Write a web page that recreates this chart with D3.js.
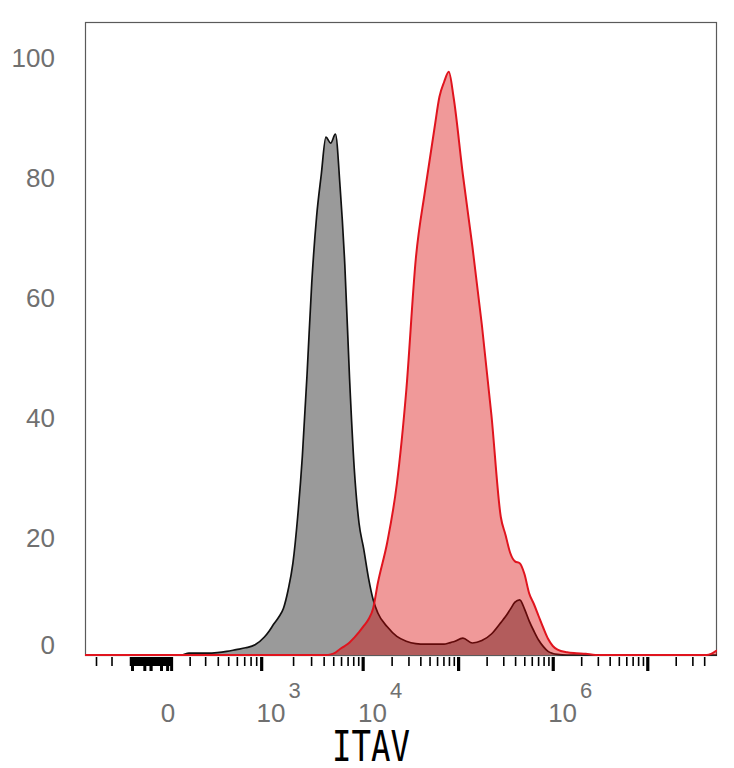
<!DOCTYPE html>
<html>
<head>
<meta charset="utf-8">
<script src="https://cdn.jsdelivr.net/npm/d3@7"></script>
<style>
  html, body { margin: 0; padding: 0; background: #fff; }
  svg { display: block; }
</style>
</head>
<body>
<div id="chart"></div>
<script>
// Histogram bins (intensity values, equal steps on the logicle display)
const binX = [
  -390, 0, 150, 193, 250, 316, 391, 479, 585, 713, 869,
  1060, 1175, 1300, 1440, 1600, 1770, 1970, 2190, 2430, 2710,
  3010, 3360, 3740, 4170, 4650, 5200, 5800, 6480, 7250, 8100,
  9060, 10100, 11400, 12700, 14200, 17800, 22400, 28100, 35400, 44400,
  55900, 62700, 70300, 78800, 88400, 111000, 140000, 176000, 222000, 279000,
  313000, 351000, 394000, 442000, 496000, 556000, 624000, 700000, 786000, 881000,
  989000, 1110000, 1400000, 1760000, 2210000, 2790000, 42000000, 54000000
];

// Isotype control (grey), % of max
const isotype = [
  0, 0, 0, 0.3, 0.3, 0.3, 0.4, 0.6, 0.9, 1.2, 1.7,
  3.0, 4.0, 5.2, 6.3, 7.8, 10.8, 15.3, 23, 33, 47,
  62, 73, 80, 86.3, 85.3, 86.8, 78, 65, 46, 31,
  22, 17.8, 12.7, 9.2, 7.0, 4.7, 3.1, 2.3, 1.9, 1.8,
  1.8, 1.8, 1.8, 2.0, 2.2, 2.8, 2.0, 2.4, 3.5, 5.4,
  6.4, 7.6, 8.8, 9.2, 7.7, 5.7, 4.0, 2.5, 1.4, 0.6,
  0.25, 0.1, 0, 0, 0, 0, 0, 0
];

// ITAV stained sample (red), % of max
const itav = [
  0, 0, 0, 0, 0, 0, 0, 0, 0, 0, 0,
  0, 0, 0, 0, 0, 0, 0, 0, 0, 0,
  0, 0, 0, 0, 0.1, 0.4, 1.0, 1.5, 2.1, 2.9,
  3.8, 4.8, 6.0, 7.8, 12, 18.8, 28.5, 44, 66, 77.5,
  88, 93, 95.5, 97.2, 93, 80, 68, 55, 40, 23,
  20, 17, 15.6, 15.3, 13.5, 10.3, 8.5, 6.5, 4.5, 2.7,
  1.5, 0.9, 0.45, 0.3, 0.2, 0, 0, 0.8
];

const yTicks = [0, 20, 40, 60, 80, 100];
const xLabelTicks = [0, 1e3, 1e4, 1e6];
const xMajorTicks = [0, 1e3, 1e4, 1e5, 1e6, 1e7];
const xNearZeroTicks = [-90, -80, -70, -60, -50, -40, -30, -20, -10,
  10, 20, 30, 40, 50, 60, 70, 80, 90, 100];
const xMinorTicks = [-300, -200, -100, 200, 300, 400, 500, 600, 700, 800, 900];
const xDomain = [-390, 54000000];
const yDomain = [0, 105.5];
const axisTitle = 'ITAV';

// logicle-like display transform
const K = 55.6, P = 2.53;
function logicleInverse(z) {
  const a = Math.abs(z);
  const v = K * (Math.pow(10, a) - P * P * Math.pow(10, -a / P) + P * P - 1);
  return z < 0 ? -v : v;
}
function logicle(v) {
  let lo = -4, hi = 9;
  for (let i = 0; i < 60; i++) {
    const mid = (lo + hi) / 2;
    if (logicleInverse(mid) < v) lo = mid; else hi = mid;
  }
  return (lo + hi) / 2;
}

// decade minor ticks 2..9 x 10^d
for (let d = 3; d <= 7; d++) {
  for (let k = 2; k <= 9; k++) xMinorTicks.push(k * Math.pow(10, d));
}

const width = 734, height = 768;
const plot = { left: 85, right: 717, top: 22, bottom: 655 };

const svg = d3.select('#chart').append('svg')
  .attr('width', width)
  .attr('height', height);

const xs = d3.scaleLinear()
  .domain(xDomain.map(logicle))
  .range([plot.left, plot.right]);
const x = v => xs(logicle(v));

const y = d3.scaleLinear()
  .domain(yDomain)
  .range([plot.bottom, plot.top]);

const grey = binX.map((v, i) => ({ x: v, c: isotype[i] }));
const red = binX.map((v, i) => ({ x: v, c: itav[i] }));

const area = d3.area()
  .x(d => x(d.x))
  .y0(y(0))
  .y1(d => y(d.c))
  .curve(d3.curveMonotoneX);
const line = d3.line()
  .x(d => x(d.x))
  .y(d => y(d.c))
  .curve(d3.curveMonotoneX);

// frame
svg.append('rect')
  .attr('x', plot.left + 0.5)
  .attr('y', plot.top + 0.5)
  .attr('width', plot.right - plot.left - 1)
  .attr('height', plot.bottom - plot.top)
  .attr('fill', 'none')
  .attr('stroke', '#5a5a5a')
  .attr('stroke-width', 1.2);

svg.append('clipPath').attr('id', 'clip')
  .append('rect')
  .attr('x', plot.left)
  .attr('y', plot.top)
  .attr('width', plot.right - plot.left)
  .attr('height', plot.bottom - plot.top + 2);

const g = svg.append('g').attr('clip-path', 'url(#clip)');

g.append('path').datum(grey)
  .attr('d', area)
  .attr('fill', '#9a9a9a');
g.append('path').datum(grey)
  .attr('d', line)
  .attr('fill', 'none')
  .attr('stroke', '#111')
  .attr('stroke-width', 1.7);
g.append('path').datum(red)
  .attr('d', area)
  .attr('fill', 'rgba(218,0,0,0.4)');
g.append('path').datum(red)
  .attr('d', line)
  .attr('fill', 'none')
  .attr('stroke', '#e0141e')
  .attr('stroke-width', 2);

// x ticks
const tickTop = plot.bottom + 2;
const ticks = svg.append('g').attr('stroke', '#000');
ticks.selectAll('.minor').data(xMinorTicks.filter(v => x(v) < plot.right - 6))
  .join('line')
  .attr('x1', d => x(d)).attr('x2', d => x(d))
  .attr('y1', tickTop).attr('y2', tickTop + 9)
  .attr('stroke-width', 1.6);
ticks.selectAll('.zero').data(xNearZeroTicks)
  .join('line')
  .attr('x1', d => x(d)).attr('x2', d => x(d))
  .attr('y1', tickTop)
  .attr('y2', d => tickTop + ([-90, -30, 50, 80, 100].includes(d) ? 14 : 9))
  .attr('stroke-width', 3);
ticks.selectAll('.major').data(xMajorTicks)
  .join('line')
  .attr('x1', d => x(d)).attr('x2', d => x(d))
  .attr('y1', tickTop).attr('y2', tickTop + 14)
  .attr('stroke-width', 3.2);

// x labels
const labelFont = '"Liberation Sans", Arial, sans-serif';
const xl = svg.append('g')
  .attr('font-family', labelFont)
  .attr('fill', '#707070')
  .attr('text-anchor', 'middle');
xLabelTicks.forEach(v => {
  const t = xl.append('text')
    .attr('x', x(v) + 17)
    .attr('y', 722)
    .attr('font-size', 26);
  if (v === 0) {
    t.text('0');
  } else {
    t.append('tspan').text('10');
    t.append('tspan')
      .attr('dx', 3)
      .attr('dy', -24)
      .attr('font-size', 22)
      .text(Math.round(Math.log10(v)));
  }
});

// y labels
svg.append('g')
  .attr('font-family', labelFont)
  .attr('font-size', 26)
  .attr('fill', '#707070')
  .attr('text-anchor', 'end')
  .selectAll('text').data(yTicks)
  .join('text')
  .attr('x', 55)
  .attr('y', d => Math.min(y(d) + 3, plot.bottom - 10))
  .attr('dy', '0.35em')
  .text(d => d);

// axis title
svg.append('text')
  .attr('x', 371)
  .attr('y', 761)
  .attr('text-anchor', 'middle')
  .attr('font-family', '"DejaVu Sans Mono", monospace')
  .attr('font-size', 43)
  .attr('textLength', 78)
  .attr('lengthAdjust', 'spacingAndGlyphs')
  .attr('fill', '#000')
  .text(axisTitle);
</script>
</body>
</html>
